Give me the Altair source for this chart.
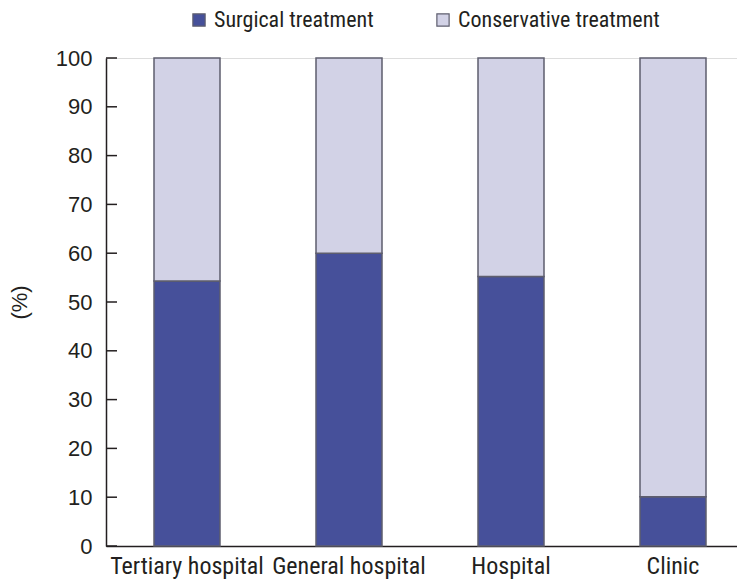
import altair as alt
import pandas as pd

categories = ["Tertiary hospital", "General hospital", "Hospital", "Clinic"]
surgical = [54.3, 60.0, 55.2, 10.1]
conservative = [100 - v for v in surgical]
series = ["Surgical treatment", "Conservative treatment"]
y_ticks = [0, 10, 20, 30, 40, 50, 60, 70, 80, 90, 100]

rows = []
for c, s, k in zip(categories, surgical, conservative):
    rows.append({"cat": c, "type": series[0], "value": s, "ord": 0})
    rows.append({"cat": c, "type": series[1], "value": k, "ord": 1})
df = pd.DataFrame(rows)
ticks_df = pd.DataFrame({"tv": y_ticks})

FONT = "Liberation Sans Narrow, Roboto Condensed, Liberation Sans, sans-serif"
FONT_Y = "Liberation Sans, Arial, sans-serif"
INK = "#231F20"

y_axis = alt.Axis(title="(%)", values=y_ticks, ticks=False, grid=False,
                  labelPadding=14, domainColor=INK, domainWidth=1.5,
                  labelFontSize=22, labelColor=INK, labelFont=FONT_Y,
                  titleFont=FONT_Y, titleFontSize=22, titleFontWeight="normal",
                  titleColor=INK, titlePadding=24)
y_scale = alt.Scale(domain=[0, 100], nice=False)

bars = alt.Chart(df).mark_bar(width=66, stroke="#5E5E6E", strokeWidth=1.5).encode(
    x=alt.X("cat:N", sort=categories,
            scale=alt.Scale(range=[0, 648], paddingInner=0, paddingOuter=0),
            axis=alt.Axis(title=None, labelAngle=0, ticks=False, labelPadding=8,
                          domainColor=INK, domainWidth=1.5, labelFontSize=24,
                          labelColor=INK, labelFont=FONT, labelLimit=0)),
    y=alt.Y("value:Q", stack="zero", scale=y_scale, axis=y_axis),
    color=alt.Color("type:N", sort=series,
                    scale=alt.Scale(domain=series, range=["#46509A", "#D2D2E6"]),
                    legend=alt.Legend(title=None, orient="none", direction="horizontal",
                                      legendX=82, legendY=-49, symbolType="square",
                                      symbolSize=150, symbolStrokeColor="#5E5E6E",
                                      symbolStrokeWidth=1.2, labelFontSize=22,
                                      labelFont=FONT, labelColor=INK, labelLimit=0,
                                      columnPadding=58, labelOffset=4)),
    order=alt.Order("ord:Q"),
)

tick_marks = alt.Chart(ticks_df).mark_rule(color=INK, strokeWidth=1.5).encode(
    y=alt.Y("tv:Q", scale=y_scale, axis=y_axis),
    x=alt.value(0),
    x2=alt.value(11),
)

chart = alt.layer(bars, tick_marks).properties(
    width=631, height=488,
    autosize=alt.AutoSizeParams(type="none"),
    padding={"left": 98, "top": 50, "right": 0, "bottom": 41},
).configure_view(stroke=None).configure(background="white")

chart.save("out.html", embed_options={"renderer": "svg", "actions": False})
